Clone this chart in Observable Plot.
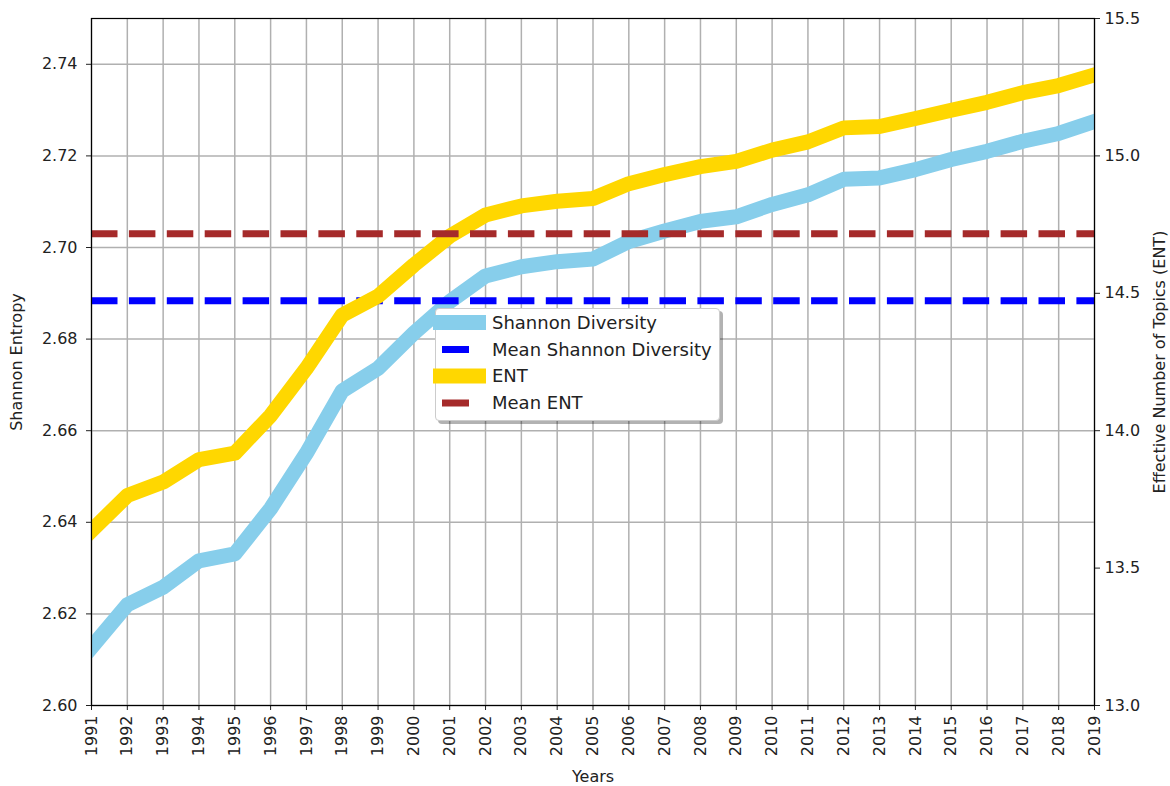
<!DOCTYPE html>
<html>
<head>
<meta charset="utf-8">
<script src="https://cdn.jsdelivr.net/npm/d3@7"></script>
<script src="https://cdn.jsdelivr.net/npm/@observablehq/plot@0.6"></script>
<style>
  body { margin: 0; background: #fff; font-family: "DejaVu Sans", sans-serif; }
  #chart { position: relative; width: 1170px; height: 786px; }
  #chart > svg, #chart > figure { position: absolute; left: 0; top: 0; margin: 0; }
  .legend {
    position: absolute; left: 435px; top: 308px; width: 285px; height: 113px;
    box-sizing: border-box; background: #fff; border: 1px solid #cccccc; border-radius: 4px;
    box-shadow: 3px 3px 0 rgba(0, 0, 0, 0.3);
  }
  .legend svg { position: absolute; left: 0; top: 0; overflow: visible; }
  .legend text { font-family: "DejaVu Sans", sans-serif; font-size: 18px; fill: #222; }
  .ylab-left text { font-size: 17px; }
  .ylab-right text { font-size: 18px; }
</style>
</head>
<body>
<div id="chart"></div>
<script>
// Yearly topic diversity, 1991–2019
const years = d3.range(1991, 2020);
const shannon = [
  2.6127, 2.6220, 2.6258, 2.6316, 2.6331, 2.6430, 2.6551, 2.6687, 2.6736, 2.6813,
  2.6882, 2.6938, 2.6958, 2.6969, 2.6975, 2.7013, 2.7036, 2.7057, 2.7067, 2.7094,
  2.7115, 2.7149, 2.7152, 2.7170, 2.7192, 2.7210, 2.7232, 2.7249, 2.7275
];
const ent = [
  13.636, 13.764, 13.813, 13.895, 13.918, 14.055, 14.227, 14.421, 14.490, 14.603,
  14.708, 14.785, 14.818, 14.835, 14.845, 14.899, 14.932, 14.961, 14.980, 15.021,
  15.051, 15.102, 15.107, 15.136, 15.166, 15.195, 15.230, 15.256, 15.295
];
const meanShannon = 2.6884;
const meanEnt = 14.717;

const shannonTicks = [2.60, 2.62, 2.64, 2.66, 2.68, 2.70, 2.72, 2.74];
const entTicks = [13.0, 13.5, 14.0, 14.5, 15.0, 15.5];

const legendItems = [
  { label: "Shannon Diversity", color: "#87ceeb", kind: "band" },
  { label: "Mean Shannon Diversity", color: "#0000ff", kind: "dash" },
  { label: "ENT", color: "#ffd700", kind: "band" },
  { label: "Mean ENT", color: "#a52a2a", kind: "dash" }
];

const rows = years.map((year, i) => ({ year, shannon: shannon[i], ent: ent[i] }));

const frame = {
  width: 1170, height: 786,
  marginTop: 18, marginRight: 76, marginBottom: 81, marginLeft: 91,
  style: { background: "transparent", fontFamily: "DejaVu Sans, sans-serif", fontSize: "16px", color: "#222", overflow: "visible" }
};
const grid = { stroke: "#b0b0b0", strokeOpacity: 1, strokeWidth: 1.5 };
const dash = "26.5,11.4";

// Left axis: Shannon entropy
const left = Plot.plot({
  ...frame,
  x: { domain: [1991, 2019] },
  y: { domain: [2.60, 2.75] },
  marks: [
    Plot.gridX(years, grid),
    Plot.gridY(shannonTicks, grid),
    Plot.axisX(years, {
      tickRotate: -90, tickFormat: d => String(d), tickSize: 5, tickPadding: 5,
      label: "Years", labelAnchor: "center", labelOffset: 76, labelArrow: "none"
    }),
    Plot.axisY(shannonTicks, {
      anchor: "left", tickFormat: d3.format(".2f"), tickSize: 5, tickPadding: 9,
      label: null
    }),
    Plot.axisY({
      anchor: "left", ticks: [], tickSize: 0, className: "ylab-left",
      label: "Shannon Entropy", labelAnchor: "center", labelOffset: 81, labelArrow: "none"
    }),
    Plot.line(rows, { x: "year", y: "shannon", stroke: "#87ceeb", strokeWidth: 15, strokeLinejoin: "round", strokeLinecap: "square", clip: true }),
    Plot.ruleY([meanShannon], { stroke: "#0000ff", strokeWidth: 7, strokeDasharray: dash })
  ]
});

// Right axis: effective number of topics
const right = Plot.plot({
  ...frame,
  x: { domain: [1991, 2019], axis: null },
  y: { domain: [13, 15.5] },
  marks: [
    Plot.line(rows, { x: "year", y: "ent", stroke: "#ffd700", strokeWidth: 15, strokeLinejoin: "round", strokeLinecap: "square", clip: true }),
    Plot.ruleY([meanEnt], { stroke: "#a52a2a", strokeWidth: 7, strokeDasharray: dash }),
    Plot.axisY(entTicks, {
      anchor: "right", tickFormat: d3.format(".1f"), tickSize: 5, tickPadding: 5,
      label: null
    }),
    Plot.axisY({
      anchor: "right", ticks: [], tickSize: 0, className: "ylab-right",
      label: "Effective Number of Topics (ENT)", labelAnchor: "center", labelOffset: 70, labelArrow: "none"
    }),
    Plot.frame({ stroke: "#000", strokeWidth: 1.2 })
  ]
});

const chart = document.getElementById("chart");
chart.append(left, right);

// Legend box
const legend = document.createElement("div");
legend.className = "legend";
const ls = d3.create("svg").attr("width", 285).attr("height", 113);
const rowY = [13.5, 40.5, 67, 94];
legendItems.forEach((item, i) => {
  const y = rowY[i];
  if (item.kind === "band") {
    ls.append("line").attr("x1", -3).attr("x2", 50).attr("y1", y).attr("y2", y)
      .attr("stroke", item.color).attr("stroke-width", 15);
  } else {
    ls.append("line").attr("x1", 6).attr("x2", 33).attr("y1", y).attr("y2", y)
      .attr("stroke", item.color).attr("stroke-width", 7);
  }
  ls.append("text").attr("x", 56).attr("y", y).attr("dy", "0.35em").text(item.label);
});
legend.append(ls.node());
chart.append(legend);
</script>
</body>
</html>
